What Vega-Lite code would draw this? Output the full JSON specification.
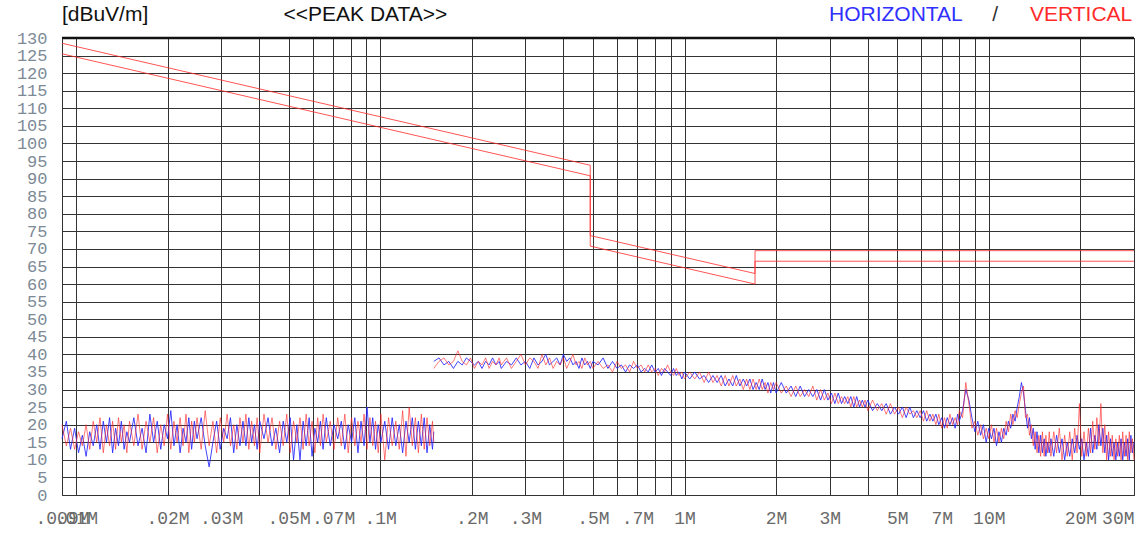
{
"$schema": "https://vega.github.io/schema/vega-lite/v6.json",
"width": 1072, "height": 457,
"autosize": {"type": "none"},
"padding": {"left": 62, "top": 38, "right": 8, "bottom": 38},
"background": "white",
"config": {
"view": {"stroke": "#222", "strokeWidth": 1},
"axis": {"ticks": false, "domain": false, "grid": true, "gridColor": "#333333", "gridWidth": 1, "gridOpacity": 1, "labelOverlap": false, "labelBound": false, "labelFlush": false, "labelFont": "Liberation Mono", "labelFontSize": 18},
"axisX": {"labelColor": "#6a6a6a", "labelPadding": 14},
"axisY": {"labelColor": "#7d8a96", "labelPadding": 15, "labelFontSize": 17}
},
"datasets": {
"limit": [
{"f":0.009,"y":128.5,"l":"A","i":1},{"f":0.49,"y":93.8,"l":"A","i":2},{"f":0.49,"y":73.8,"l":"A","i":3},{"f":1.705,"y":63,"l":"A","i":4},{"f":1.705,"y":69.5,"l":"A","i":5},{"f":30,"y":69.5,"l":"A","i":6},
{"f":0.009,"y":125.5,"l":"B","i":1},{"f":0.49,"y":90.8,"l":"B","i":2},{"f":0.49,"y":70.8,"l":"B","i":3},{"f":1.705,"y":60,"l":"B","i":4},{"f":1.705,"y":66.5,"l":"B","i":5},{"f":30,"y":66.5,"l":"B","i":6}
],
"scan": [
{"f":0.0090,"h":16,"v":20,"g":1},{"f":0.0093,"h":21,"v":14,"g":1},{"f":0.0096,"h":13,"v":19,"g":1},{"f":0.0099,"h":19,"v":13,"g":1},{"f":0.0102,"h":12,"v":18,"g":1},{"f":0.0105,"h":17,"v":14,"g":1},{"f":0.0108,"h":11,"v":20,"g":1},{"f":0.0111,"h":18,"v":13,"g":1},{"f":0.0114,"h":14,"v":21,"g":1},{"f":0.0117,"h":20,"v":15,"g":1},
{"f":0.0120,"h":13,"v":22,"g":1},{"f":0.0123,"h":21,"v":12,"g":1},{"f":0.0126,"h":15,"v":20,"g":1},{"f":0.0129,"h":22,"v":14,"g":1},{"f":0.0132,"h":12,"v":21,"g":1},{"f":0.0135,"h":19,"v":13,"g":1},{"f":0.0138,"h":14,"v":22,"g":1},{"f":0.0141,"h":21,"v":15,"g":1},{"f":0.0144,"h":13,"v":20,"g":1},{"f":0.0147,"h":18,"v":12,"g":1},
{"f":0.0150,"h":15,"v":21,"g":1},{"f":0.0155,"h":22,"v":14,"g":1},{"f":0.0160,"h":14,"v":23,"g":1},{"f":0.0165,"h":19,"v":13,"g":1},{"f":0.0170,"h":12,"v":21,"g":1},{"f":0.0175,"h":23,"v":15,"g":1},{"f":0.0180,"h":15,"v":22,"g":1},{"f":0.0185,"h":21,"v":12,"g":1},{"f":0.0190,"h":13,"v":20,"g":1},{"f":0.0195,"h":20,"v":14,"g":1},
{"f":0.0200,"h":16,"v":23,"g":1},{"f":0.0205,"h":24,"v":13,"g":1},{"f":0.0210,"h":14,"v":21,"g":1},{"f":0.0215,"h":20,"v":15,"g":1},{"f":0.0220,"h":12,"v":22,"g":1},{"f":0.0225,"h":19,"v":14,"g":1},{"f":0.0230,"h":15,"v":23,"g":1},{"f":0.0235,"h":22,"v":12,"g":1},{"f":0.0240,"h":13,"v":21,"g":1},{"f":0.0245,"h":21,"v":15,"g":1},
{"f":0.0250,"h":16,"v":22,"g":1},{"f":0.0258,"h":22,"v":13,"g":1},{"f":0.0266,"h":14,"v":24,"g":1},{"f":0.0274,"h":8,"v":14,"g":1},{"f":0.0282,"h":15,"v":21,"g":1},{"f":0.0290,"h":21,"v":12,"g":1},{"f":0.0298,"h":13,"v":22,"g":1},{"f":0.0306,"h":19,"v":15,"g":1},{"f":0.0314,"h":16,"v":23,"g":1},{"f":0.0322,"h":22,"v":14,"g":1},
{"f":0.0330,"h":12,"v":20,"g":1},{"f":0.0338,"h":20,"v":13,"g":1},{"f":0.0346,"h":14,"v":22,"g":1},{"f":0.0354,"h":21,"v":15,"g":1},{"f":0.0362,"h":14,"v":23,"g":1},{"f":0.0370,"h":22,"v":13,"g":1},{"f":0.0378,"h":15,"v":21,"g":1},{"f":0.0386,"h":20,"v":14,"g":1},{"f":0.0394,"h":13,"v":22,"g":1},{"f":0.0402,"h":21,"v":12,"g":1},
{"f":0.0415,"h":16,"v":23,"g":1},{"f":0.0428,"h":22,"v":15,"g":1},{"f":0.0441,"h":14,"v":22,"g":1},{"f":0.0454,"h":19,"v":13,"g":1},{"f":0.0467,"h":12,"v":21,"g":1},{"f":0.0480,"h":21,"v":14,"g":1},{"f":0.0493,"h":15,"v":23,"g":1},{"f":0.0506,"h":22,"v":12,"g":1},{"f":0.0519,"h":10,"v":21,"g":1},{"f":0.0532,"h":20,"v":15,"g":1},
{"f":0.0545,"h":10,"v":22,"g":1},{"f":0.0558,"h":21,"v":13,"g":1},{"f":0.0571,"h":14,"v":23,"g":1},{"f":0.0584,"h":22,"v":14,"g":1},{"f":0.0597,"h":11,"v":21,"g":1},{"f":0.0610,"h":19,"v":12,"g":1},{"f":0.0623,"h":15,"v":22,"g":1},{"f":0.0636,"h":21,"v":14,"g":1},{"f":0.0649,"h":13,"v":23,"g":1},{"f":0.0665,"h":22,"v":15,"g":1},
{"f":0.0685,"h":14,"v":21,"g":1},{"f":0.0705,"h":20,"v":13,"g":1},{"f":0.0725,"h":16,"v":22,"g":1},{"f":0.0745,"h":21,"v":14,"g":1},{"f":0.0765,"h":13,"v":23,"g":1},{"f":0.0785,"h":20,"v":12,"g":1},{"f":0.0805,"h":15,"v":22,"g":1},{"f":0.0825,"h":22,"v":14,"g":1},{"f":0.0845,"h":12,"v":21,"g":1},{"f":0.0865,"h":21,"v":15,"g":1},
{"f":0.0885,"h":14,"v":23,"g":1},{"f":0.0905,"h":25,"v":13,"g":1},{"f":0.0925,"h":15,"v":22,"g":1},{"f":0.0945,"h":22,"v":14,"g":1},{"f":0.0965,"h":13,"v":21,"g":1},{"f":0.0985,"h":20,"v":12,"g":1},{"f":0.1005,"h":15,"v":23,"g":1},{"f":0.1035,"h":21,"v":10,"g":1},{"f":0.1065,"h":13,"v":22,"g":1},{"f":0.1095,"h":22,"v":14,"g":1},
{"f":0.1125,"h":14,"v":21,"g":1},{"f":0.1155,"h":20,"v":13,"g":1},{"f":0.1185,"h":12,"v":24,"g":1},{"f":0.1215,"h":21,"v":11,"g":1},{"f":0.1245,"h":15,"v":25,"g":1},{"f":0.1275,"h":22,"v":14,"g":1},{"f":0.1305,"h":13,"v":22,"g":1},{"f":0.1335,"h":21,"v":12,"g":1},{"f":0.1365,"h":14,"v":23,"g":1},{"f":0.1395,"h":22,"v":13,"g":1},
{"f":0.1425,"h":12,"v":22,"g":1},{"f":0.1455,"h":20,"v":14,"g":1},{"f":0.1485,"h":13,"v":21,"g":1},{"f":0.1500,"h":18,"v":15,"g":1},
{"f":0.150,"h":38,"v":36,"g":2},{"f":0.156,"h":39,"v":38,"g":2},{"f":0.162,"h":37,"v":39,"g":2},{"f":0.168,"h":38,"v":37,"g":2},{"f":0.174,"h":36,"v":38,"g":2},{"f":0.180,"h":38,"v":41,"g":2},{"f":0.186,"h":37,"v":38,"g":2},{"f":0.192,"h":39,"v":37,"g":2},{"f":0.198,"h":38,"v":39,"g":2},{"f":0.204,"h":37,"v":36,"g":2},
{"f":0.210,"h":38,"v":38,"g":2},{"f":0.216,"h":36,"v":37,"g":2},{"f":0.222,"h":38,"v":39,"g":2},{"f":0.228,"h":37,"v":36,"g":2},{"f":0.234,"h":39,"v":38,"g":2},{"f":0.240,"h":37,"v":37,"g":2},{"f":0.246,"h":38,"v":39,"g":2},
{"f":0.25,"h":36,"v":37,"g":2},{"f":0.26,"h":38,"v":39,"g":2},{"f":0.27,"h":37,"v":36,"g":2},{"f":0.28,"h":39,"v":38,"g":2},{"f":0.29,"h":37,"v":40,"g":2},{"f":0.30,"h":38,"v":37,"g":2},{"f":0.31,"h":36,"v":39,"g":2},{"f":0.32,"h":39,"v":38,"g":2},{"f":0.33,"h":37,"v":36,"g":2},{"f":0.34,"h":38,"v":40,"g":2},
{"f":0.35,"h":40,"v":37,"g":2},{"f":0.36,"h":37,"v":39,"g":2},{"f":0.37,"h":38,"v":36,"g":2},{"f":0.38,"h":39,"v":38,"g":2},{"f":0.39,"h":37,"v":37,"g":2},{"f":0.40,"h":40,"v":39,"g":2},{"f":0.41,"h":38,"v":36,"g":2},{"f":0.42,"h":39,"v":38,"g":2},{"f":0.43,"h":37,"v":40,"g":2},{"f":0.44,"h":38,"v":37,"g":2},
{"f":0.45,"h":36,"v":38,"g":2},{"f":0.46,"h":39,"v":36,"g":2},{"f":0.47,"h":37,"v":39,"g":2},{"f":0.48,"h":38,"v":37,"g":2},{"f":0.49,"h":36,"v":38,"g":2},
{"f":0.50,"h":38,"v":36,"g":2},{"f":0.52,"h":37,"v":38,"g":2},{"f":0.54,"h":39,"v":36,"g":2},{"f":0.56,"h":36,"v":37,"g":2},{"f":0.58,"h":38,"v":35,"g":2},{"f":0.60,"h":36,"v":38,"g":2},{"f":0.62,"h":37,"v":36,"g":2},{"f":0.64,"h":35,"v":37,"g":2},{"f":0.66,"h":37,"v":35,"g":2},{"f":0.68,"h":36,"v":38,"g":2},
{"f":0.70,"h":37,"v":36,"g":2},{"f":0.72,"h":35,"v":37,"g":2},{"f":0.74,"h":36,"v":35,"g":2},{"f":0.76,"h":35,"v":37,"g":2},{"f":0.78,"h":37,"v":35,"g":2},{"f":0.80,"h":35,"v":36,"g":2},{"f":0.82,"h":36,"v":34,"g":2},{"f":0.84,"h":34,"v":36,"g":2},{"f":0.86,"h":36,"v":35,"g":2},{"f":0.88,"h":35,"v":37,"g":2},
{"f":0.90,"h":34,"v":35,"g":2},{"f":0.92,"h":36,"v":34,"g":2},{"f":0.94,"h":34,"v":36,"g":2},{"f":0.96,"h":35,"v":34,"g":2},{"f":0.98,"h":33,"v":35,"g":2},
{"f":1.00,"h":35,"v":33,"g":2},{"f":1.04,"h":33,"v":35,"g":2},{"f":1.08,"h":35,"v":33,"g":2},{"f":1.12,"h":33,"v":35,"g":2},{"f":1.16,"h":34,"v":32,"g":2},{"f":1.20,"h":32,"v":35,"g":2},{"f":1.24,"h":34,"v":32,"g":2},{"f":1.28,"h":32,"v":34,"g":2},{"f":1.32,"h":34,"v":31,"g":2},{"f":1.36,"h":31,"v":34,"g":2},
{"f":1.40,"h":33,"v":31,"g":2},{"f":1.44,"h":31,"v":34,"g":2},{"f":1.48,"h":34,"v":31,"g":2},{"f":1.52,"h":31,"v":33,"g":2},{"f":1.56,"h":33,"v":30,"g":2},{"f":1.60,"h":31,"v":33,"g":2},{"f":1.64,"h":33,"v":30,"g":2},{"f":1.68,"h":30,"v":33,"g":2},{"f":1.72,"h":32,"v":30,"g":2},{"f":1.76,"h":30,"v":33,"g":2},
{"f":1.80,"h":33,"v":30,"g":2},{"f":1.84,"h":30,"v":32,"g":2},{"f":1.88,"h":32,"v":29,"g":2},{"f":1.92,"h":29,"v":32,"g":2},{"f":1.96,"h":32,"v":30,"g":2},
{"f":2.00,"h":29,"v":32,"g":2},{"f":2.08,"h":32,"v":29,"g":2},{"f":2.16,"h":29,"v":31,"g":2},{"f":2.24,"h":31,"v":28,"g":2},{"f":2.32,"h":28,"v":31,"g":2},{"f":2.40,"h":31,"v":28,"g":2},{"f":2.48,"h":28,"v":30,"g":2},{"f":2.56,"h":30,"v":28,"g":2},{"f":2.64,"h":28,"v":31,"g":2},{"f":2.72,"h":30,"v":27,"g":2},
{"f":2.80,"h":27,"v":30,"g":2},{"f":2.88,"h":30,"v":27,"g":2},{"f":2.96,"h":27,"v":29,"g":2},{"f":3.04,"h":29,"v":26,"g":2},{"f":3.12,"h":26,"v":29,"g":2},{"f":3.20,"h":29,"v":26,"g":2},{"f":3.28,"h":26,"v":28,"g":2},{"f":3.36,"h":28,"v":26,"g":2},{"f":3.44,"h":26,"v":28,"g":2},{"f":3.52,"h":28,"v":25,"g":2},
{"f":3.60,"h":25,"v":28,"g":2},{"f":3.68,"h":28,"v":25,"g":2},{"f":3.76,"h":25,"v":27,"g":2},{"f":3.84,"h":27,"v":25,"g":2},{"f":3.92,"h":25,"v":27,"g":2},
{"f":4.00,"h":27,"v":24,"g":2},{"f":4.15,"h":24,"v":27,"g":2},{"f":4.30,"h":26,"v":24,"g":2},{"f":4.45,"h":24,"v":26,"g":2},{"f":4.60,"h":26,"v":23,"g":2},{"f":4.75,"h":23,"v":26,"g":2},{"f":4.90,"h":25,"v":23,"g":2},{"f":5.05,"h":23,"v":25,"g":2},{"f":5.20,"h":25,"v":22,"g":2},{"f":5.35,"h":22,"v":25,"g":2},
{"f":5.50,"h":25,"v":23,"g":2},{"f":5.65,"h":22,"v":24,"g":2},{"f":5.80,"h":24,"v":22,"g":2},{"f":5.95,"h":22,"v":24,"g":2},{"f":6.10,"h":24,"v":21,"g":2},{"f":6.25,"h":21,"v":24,"g":2},{"f":6.40,"h":23,"v":21,"g":2},{"f":6.55,"h":21,"v":23,"g":2},{"f":6.70,"h":23,"v":20,"g":2},{"f":6.85,"h":20,"v":23,"g":2},
{"f":7.00,"h":22,"v":19,"g":2},{"f":7.15,"h":19,"v":22,"g":2},{"f":7.30,"h":22,"v":19,"g":2},{"f":7.45,"h":20,"v":23,"g":2},{"f":7.60,"h":22,"v":20,"g":2},{"f":7.75,"h":19,"v":22,"g":2},{"f":7.90,"h":23,"v":20,"g":2},
{"f":8.0,"h":21,"v":24,"g":2},{"f":8.2,"h":24,"v":22,"g":2},{"f":8.4,"h":30,"v":32,"g":2},{"f":8.6,"h":27,"v":26,"g":2},{"f":8.8,"h":22,"v":19,"g":2},{"f":9.0,"h":18,"v":21,"g":2},{"f":9.2,"h":21,"v":17,"g":2},{"f":9.4,"h":17,"v":20,"g":2},{"f":9.6,"h":20,"v":16,"g":2},{"f":9.8,"h":15,"v":19,"g":2},
{"f":10.0,"h":19,"v":16,"g":2},{"f":10.2,"h":16,"v":20,"g":2},{"f":10.4,"h":19,"v":15,"g":2},{"f":10.6,"h":14,"v":19,"g":2},{"f":10.8,"h":18,"v":15,"g":2},{"f":11.0,"h":15,"v":19,"g":2},{"f":11.2,"h":19,"v":16,"g":2},{"f":11.4,"h":17,"v":21,"g":2},{"f":11.6,"h":21,"v":18,"g":2},{"f":11.8,"h":19,"v":23,"g":2},
{"f":12.0,"h":23,"v":20,"g":2},{"f":12.2,"h":21,"v":24,"g":2},{"f":12.4,"h":25,"v":22,"g":2},{"f":12.6,"h":28,"v":26,"g":2},{"f":12.8,"h":32,"v":29,"g":2},{"f":13.0,"h":29,"v":31,"g":2},{"f":13.2,"h":24,"v":22,"g":2},{"f":13.4,"h":19,"v":23,"g":2},{"f":13.6,"h":22,"v":17,"g":2},{"f":13.8,"h":16,"v":20,"g":2},
{"f":14.0,"h":19,"v":14,"g":2},{"f":14.2,"h":13,"v":18,"g":2},{"f":14.4,"h":18,"v":12,"g":2},{"f":14.6,"h":12,"v":17,"g":2},{"f":14.8,"h":17,"v":11,"g":2},{"f":15.0,"h":12,"v":18,"g":2},{"f":15.2,"h":16,"v":11,"g":2},{"f":15.4,"h":11,"v":17,"g":2},{"f":15.6,"h":15,"v":12,"g":2},{"f":15.8,"h":12,"v":18,"g":2},
{"f":16.00,"h":16,"v":11,"g":2},{"f":16.35,"h":11,"v":18,"g":2},{"f":16.70,"h":17,"v":12,"g":2},{"f":17.05,"h":12,"v":19,"g":2},{"f":17.40,"h":16,"v":10,"g":2},{"f":17.75,"h":10,"v":17,"g":2},{"f":18.10,"h":15,"v":11,"g":2},{"f":18.45,"h":11,"v":18,"g":2},{"f":18.80,"h":16,"v":10,"g":2},{"f":19.15,"h":12,"v":19,"g":2},
{"f":19.50,"h":17,"v":12,"g":2},{"f":19.85,"h":13,"v":26,"g":2},{"f":20.20,"h":16,"v":11,"g":2},{"f":20.55,"h":10,"v":18,"g":2},{"f":20.90,"h":15,"v":11,"g":2},{"f":21.25,"h":11,"v":19,"g":2},{"f":21.60,"h":19,"v":12,"g":2},{"f":21.95,"h":12,"v":21,"g":2},{"f":22.30,"h":17,"v":13,"g":2},{"f":22.65,"h":13,"v":22,"g":2},
{"f":23.00,"h":20,"v":14,"g":2},{"f":23.35,"h":14,"v":26,"g":2},{"f":23.70,"h":19,"v":12,"g":2},{"f":24.05,"h":12,"v":20,"g":2},{"f":24.40,"h":17,"v":10,"g":2},{"f":24.75,"h":10,"v":18,"g":2},{"f":25.10,"h":16,"v":11,"g":2},{"f":25.45,"h":11,"v":17,"g":2},{"f":25.80,"h":15,"v":10,"g":2},{"f":26.15,"h":10,"v":16,"g":2},
{"f":26.50,"h":15,"v":11,"g":2},{"f":26.85,"h":11,"v":17,"g":2},{"f":27.20,"h":16,"v":10,"g":2},{"f":27.55,"h":10,"v":18,"g":2},{"f":27.90,"h":15,"v":11,"g":2},{"f":28.25,"h":11,"v":17,"g":2},{"f":28.60,"h":16,"v":10,"g":2},{"f":28.95,"h":10,"v":18,"g":2},{"f":29.30,"h":17,"v":12,"g":2},{"f":29.65,"h":12,"v":16,"g":2},
{"f":30.00,"h":15,"v":10,"g":2}
],
"one": [{}]
},
"layer": [
{
"data": {"name": "limit"},
"mark": {"type": "line", "color": "#ff2a2a", "strokeWidth": 1, "opacity": 0.8},
"encoding": {
"x": {"field": "f", "type": "quantitative",
"scale": {"type": "log", "domain": [0.009, 30], "nice": false, "zero": false},
"axis": {"title": null, "values": [0.009,0.01,0.02,0.03,0.04,0.05,0.06,0.07,0.08,0.09,0.1,0.2,0.3,0.4,0.5,0.6,0.7,0.8,0.9,1,2,3,4,5,6,7,8,9,10,20,30], "labelExpr": "indexof([0.009,0.01,0.02,0.03,0.05,0.07,0.1,0.2,0.3,0.5,0.7,1,2,3,5,7,10,20,30], datum.value) >= 0 ? (datum.value < 1 ? replace(toString(datum.value), '0.', '.') + 'M' : toString(datum.value) + 'M') : ''", "labelAlign": {"condition": {"test": "datum.value >= 30", "value": "right"}, "value": "center"}}},
"y": {"field": "y", "type": "quantitative",
"scale": {"domain": [0, 130], "nice": false, "zero": true},
"axis": {"title": null, "values": [0,5,10,15,20,25,30,35,40,45,50,55,60,65,70,75,80,85,90,95,100,105,110,115,120,125,130]}},
"detail": {"field": "l"},
"order": {"field": "i"}
}
},
{
"data": {"name": "scan"},
"mark": {"type": "line", "color": "#2424ff", "strokeWidth": 1, "opacity": 0.85},
"encoding": {
"x": {"field": "f", "type": "quantitative", "axis": {"title": null, "values": [0.009,0.01,0.02,0.03,0.04,0.05,0.06,0.07,0.08,0.09,0.1,0.2,0.3,0.4,0.5,0.6,0.7,0.8,0.9,1,2,3,4,5,6,7,8,9,10,20,30], "labelExpr": "indexof([0.009,0.01,0.02,0.03,0.05,0.07,0.1,0.2,0.3,0.5,0.7,1,2,3,5,7,10,20,30], datum.value) >= 0 ? (datum.value < 1 ? replace(toString(datum.value), '0.', '.') + 'M' : toString(datum.value) + 'M') : ''", "labelAlign": {"condition": {"test": "datum.value >= 30", "value": "right"}, "value": "center"}}},
"y": {"field": "h", "type": "quantitative", "axis": {"title": null, "values": [0,5,10,15,20,25,30,35,40,45,50,55,60,65,70,75,80,85,90,95,100,105,110,115,120,125,130]}},
"detail": {"field": "g"}
}
},
{
"data": {"name": "scan"},
"mark": {"type": "line", "color": "#ff2222", "strokeWidth": 1, "opacity": 0.6},
"encoding": {
"x": {"field": "f", "type": "quantitative", "axis": {"title": null, "values": [0.009,0.01,0.02,0.03,0.04,0.05,0.06,0.07,0.08,0.09,0.1,0.2,0.3,0.4,0.5,0.6,0.7,0.8,0.9,1,2,3,4,5,6,7,8,9,10,20,30], "labelExpr": "indexof([0.009,0.01,0.02,0.03,0.05,0.07,0.1,0.2,0.3,0.5,0.7,1,2,3,5,7,10,20,30], datum.value) >= 0 ? (datum.value < 1 ? replace(toString(datum.value), '0.', '.') + 'M' : toString(datum.value) + 'M') : ''", "labelAlign": {"condition": {"test": "datum.value >= 30", "value": "right"}, "value": "center"}}},
"y": {"field": "v", "type": "quantitative", "axis": {"title": null, "values": [0,5,10,15,20,25,30,35,40,45,50,55,60,65,70,75,80,85,90,95,100,105,110,115,120,125,130]}},
"detail": {"field": "g"}
}
},
{
"data": {"name": "one"},
"mark": {"type": "rule", "color": "#111111", "strokeWidth": 2.5},
"encoding": {"y": {"datum": 130, "axis": {"title": null, "values": [0,5,10,15,20,25,30,35,40,45,50,55,60,65,70,75,80,85,90,95,100,105,110,115,120,125,130]}}}
},
{
"data": {"name": "one"},
"mark": {"type": "text", "text": "[dBuV/m]", "font": "Liberation Sans", "fontSize": 21, "color": "#111111", "align": "center", "baseline": "middle"},
"encoding": {
"x": {"datum": 0.01247, "axis": {"title": null, "values": [0.009,0.01,0.02,0.03,0.04,0.05,0.06,0.07,0.08,0.09,0.1,0.2,0.3,0.4,0.5,0.6,0.7,0.8,0.9,1,2,3,4,5,6,7,8,9,10,20,30], "labelExpr": "indexof([0.009,0.01,0.02,0.03,0.05,0.07,0.1,0.2,0.3,0.5,0.7,1,2,3,5,7,10,20,30], datum.value) >= 0 ? (datum.value < 1 ? replace(toString(datum.value), '0.', '.') + 'M' : toString(datum.value) + 'M') : ''", "labelAlign": {"condition": {"test": "datum.value >= 30", "value": "right"}, "value": "center"}}},
"y": {"datum": 136.6, "axis": {"title": null, "values": [0,5,10,15,20,25,30,35,40,45,50,55,60,65,70,75,80,85,90,95,100,105,110,115,120,125,130]}}}
},
{
"data": {"name": "one"},
"mark": {"type": "text", "text": "<<PEAK DATA>>", "font": "Liberation Sans", "fontSize": 21, "color": "#111111", "align": "center", "baseline": "middle"},
"encoding": {
"x": {"datum": 0.0894, "axis": {"title": null, "values": [0.009,0.01,0.02,0.03,0.04,0.05,0.06,0.07,0.08,0.09,0.1,0.2,0.3,0.4,0.5,0.6,0.7,0.8,0.9,1,2,3,4,5,6,7,8,9,10,20,30], "labelExpr": "indexof([0.009,0.01,0.02,0.03,0.05,0.07,0.1,0.2,0.3,0.5,0.7,1,2,3,5,7,10,20,30], datum.value) >= 0 ? (datum.value < 1 ? replace(toString(datum.value), '0.', '.') + 'M' : toString(datum.value) + 'M') : ''", "labelAlign": {"condition": {"test": "datum.value >= 30", "value": "right"}, "value": "center"}}},
"y": {"datum": 136.6, "axis": {"title": null, "values": [0,5,10,15,20,25,30,35,40,45,50,55,60,65,70,75,80,85,90,95,100,105,110,115,120,125,130]}}}
},
{
"data": {"name": "one"},
"mark": {"type": "text", "text": "HORIZONTAL", "font": "Liberation Sans", "fontSize": 21, "color": "#3030ff", "align": "center", "baseline": "middle"},
"encoding": {
"x": {"datum": 4.95, "axis": {"title": null, "values": [0.009,0.01,0.02,0.03,0.04,0.05,0.06,0.07,0.08,0.09,0.1,0.2,0.3,0.4,0.5,0.6,0.7,0.8,0.9,1,2,3,4,5,6,7,8,9,10,20,30], "labelExpr": "indexof([0.009,0.01,0.02,0.03,0.05,0.07,0.1,0.2,0.3,0.5,0.7,1,2,3,5,7,10,20,30], datum.value) >= 0 ? (datum.value < 1 ? replace(toString(datum.value), '0.', '.') + 'M' : toString(datum.value) + 'M') : ''", "labelAlign": {"condition": {"test": "datum.value >= 30", "value": "right"}, "value": "center"}}},
"y": {"datum": 136.6, "axis": {"title": null, "values": [0,5,10,15,20,25,30,35,40,45,50,55,60,65,70,75,80,85,90,95,100,105,110,115,120,125,130]}}}
},
{
"data": {"name": "one"},
"mark": {"type": "text", "text": "/", "font": "Liberation Sans", "fontSize": 21, "color": "#333333", "align": "center", "baseline": "middle"},
"encoding": {
"x": {"datum": 10.5, "axis": {"title": null, "values": [0.009,0.01,0.02,0.03,0.04,0.05,0.06,0.07,0.08,0.09,0.1,0.2,0.3,0.4,0.5,0.6,0.7,0.8,0.9,1,2,3,4,5,6,7,8,9,10,20,30], "labelExpr": "indexof([0.009,0.01,0.02,0.03,0.05,0.07,0.1,0.2,0.3,0.5,0.7,1,2,3,5,7,10,20,30], datum.value) >= 0 ? (datum.value < 1 ? replace(toString(datum.value), '0.', '.') + 'M' : toString(datum.value) + 'M') : ''", "labelAlign": {"condition": {"test": "datum.value >= 30", "value": "right"}, "value": "center"}}},
"y": {"datum": 136.6, "axis": {"title": null, "values": [0,5,10,15,20,25,30,35,40,45,50,55,60,65,70,75,80,85,90,95,100,105,110,115,120,125,130]}}}
},
{
"data": {"name": "one"},
"mark": {"type": "text", "text": "VERTICAL", "font": "Liberation Sans", "fontSize": 21, "color": "#ff2b2b", "align": "center", "baseline": "middle"},
"encoding": {
"x": {"datum": 20.1, "axis": {"title": null, "values": [0.009,0.01,0.02,0.03,0.04,0.05,0.06,0.07,0.08,0.09,0.1,0.2,0.3,0.4,0.5,0.6,0.7,0.8,0.9,1,2,3,4,5,6,7,8,9,10,20,30], "labelExpr": "indexof([0.009,0.01,0.02,0.03,0.05,0.07,0.1,0.2,0.3,0.5,0.7,1,2,3,5,7,10,20,30], datum.value) >= 0 ? (datum.value < 1 ? replace(toString(datum.value), '0.', '.') + 'M' : toString(datum.value) + 'M') : ''", "labelAlign": {"condition": {"test": "datum.value >= 30", "value": "right"}, "value": "center"}}},
"y": {"datum": 136.6, "axis": {"title": null, "values": [0,5,10,15,20,25,30,35,40,45,50,55,60,65,70,75,80,85,90,95,100,105,110,115,120,125,130]}}}
}
]
}
